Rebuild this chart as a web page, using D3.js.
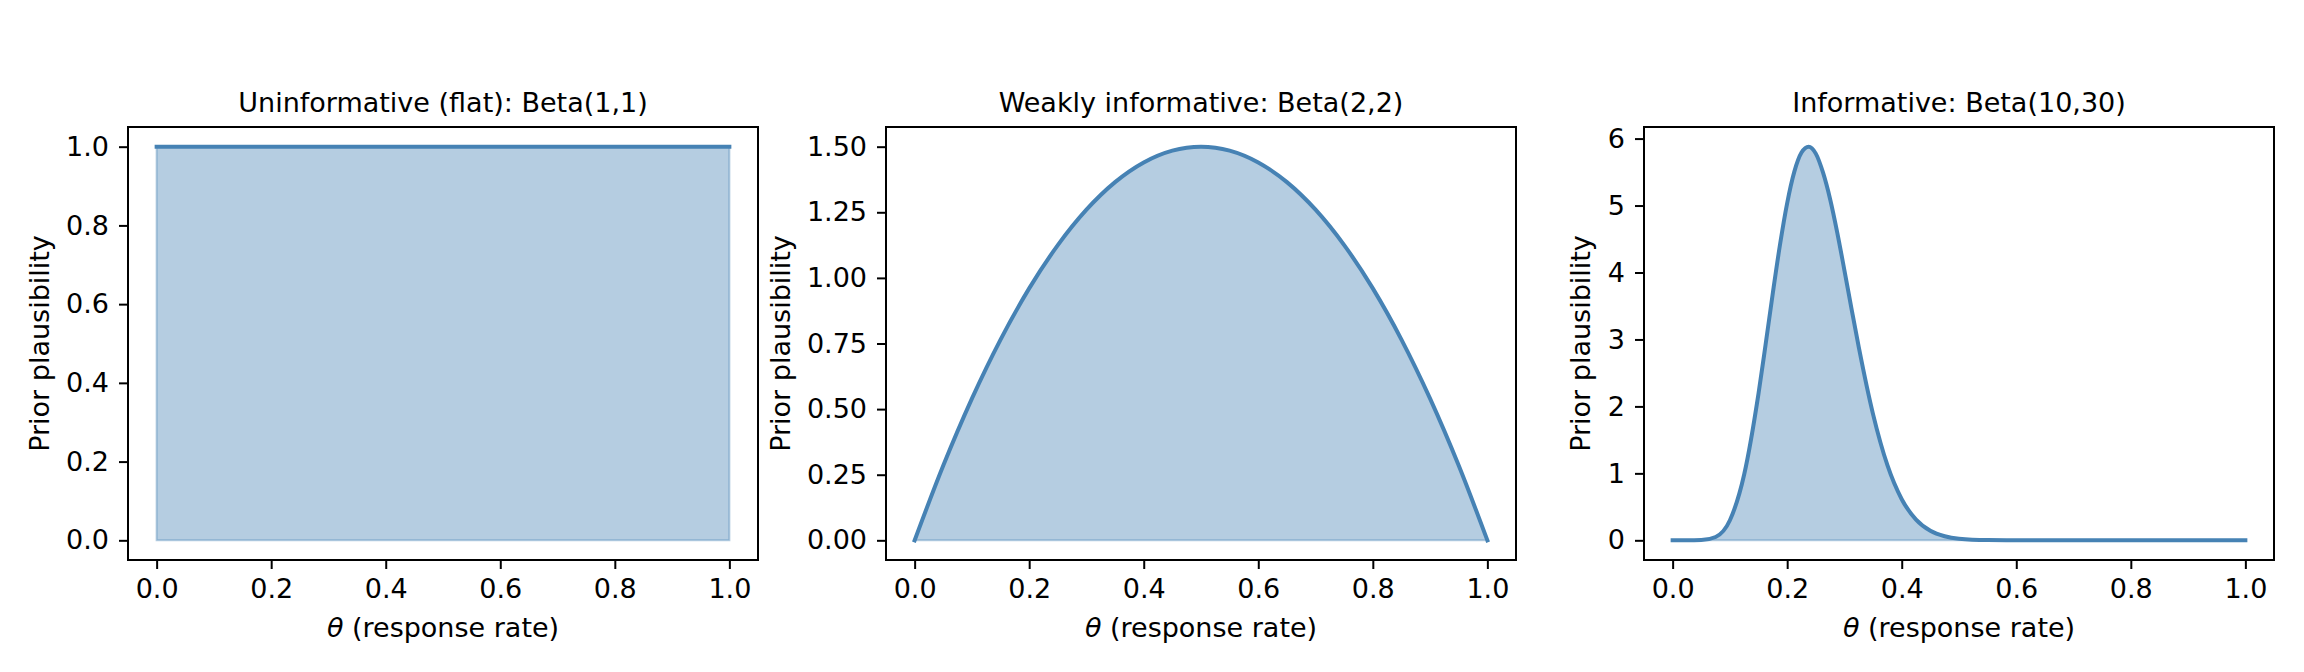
<!DOCTYPE html>
<html>
<head>
<meta charset="utf-8">
<script src="https://cdn.jsdelivr.net/npm/d3@7"></script>
<style>
  body { margin: 0; background: #fff; }
  text { font-family: "DejaVu Sans", sans-serif; }
</style>
</head>
<body>
<div id="chart"></div>
<script>
// valori (densita' a priori)
var thetaFlat = [0, 1];
var densityFlat = [1, 1];

var thetaWeak = [0, 0.05, 0.1, 0.15, 0.2, 0.25, 0.3, 0.35, 0.4, 0.45, 0.5,
  0.55, 0.6, 0.65, 0.7, 0.75, 0.8, 0.85, 0.9, 0.95, 1];
var densityWeak = [0, 0.285, 0.54, 0.765, 0.96, 1.125, 1.26, 1.365, 1.44, 1.485, 1.5,
  1.485, 1.44, 1.365, 1.26, 1.125, 0.96, 0.765, 0.54, 0.285, 0];

var thetaInf = [0, 0.025, 0.05, 0.075, 0.1, 0.125, 0.15, 0.1625, 0.175, 0.1875, 0.2,
  0.2125, 0.225, 0.2375, 0.25, 0.2625, 0.275, 0.2875, 0.3, 0.3125, 0.325, 0.35,
  0.375, 0.4, 0.425, 0.45, 0.475, 0.5, 0.55, 0.6, 0.65, 0.7, 0.75, 0.8, 0.85,
  0.9, 0.95, 1];
var densityInf = [0, 0, 0.003, 0.05, 0.3, 0.986, 2.194, 2.935, 3.697, 4.418, 5.037,
  5.506, 5.791, 5.879, 5.775, 5.494, 5.095, 4.593, 4.029, 3.45, 2.885, 1.881,
  1.122, 0.614, 0.309, 0.142, 0.06, 0.023, 0.003, 0, 0, 0, 0, 0, 0,
  0, 0, 0];

var panelTitles = ["Uninformative (flat): Beta(1,1)", "Weakly informative: Beta(2,2)", "Informative: Beta(10,30)"];
var xTicks = [0, 0.2, 0.4, 0.6, 0.8, 1.0];
var yTicksFlat = [0, 0.2, 0.4, 0.6, 0.8, 1.0];
var yTicksWeak = [0, 0.25, 0.5, 0.75, 1.0, 1.25, 1.5];
var yTicksInf = [0, 1, 2, 3, 4, 5, 6];

var width = 2304, height = 672;
var axW = 630, axTop = 127, axBottom = 560;
var axLefts = [128, 886, 1644];
var fontSize = 27;
var lineColor = "steelblue";

var svg = d3.select("#chart").append("svg")
  .attr("width", width)
  .attr("height", height)
  .style("display", "block");

svg.append("rect").attr("width", width).attr("height", height).attr("fill", "#fff");

var panels = [
  { theta: thetaFlat, dens: densityFlat, yTicks: yTicksFlat, fmt: d3.format(".1f"), curve: d3.curveLinear },
  { theta: thetaWeak, dens: densityWeak, yTicks: yTicksWeak, fmt: d3.format(".2f"), curve: d3.curveMonotoneX },
  { theta: thetaInf, dens: densityInf, yTicks: yTicksInf, fmt: d3.format("d"), curve: d3.curveMonotoneX }
];

panels.forEach(function (p, i) {
  var g = svg.append("g").attr("transform", "translate(" + axLefts[i] + ",0)");

  var x = d3.scaleLinear().domain([-0.05, 1.05]).range([0, axW]);
  var yMax = d3.max(p.dens);
  // margine del 5% come fa matplotlib
  var y = d3.scaleLinear().domain([-0.05 * yMax, 1.05 * yMax]).range([axBottom, axTop]);

  var pts = p.theta.map(function (t, k) { return [t, p.dens[k]]; });

  var area = d3.area()
    .x(function (d) { return x(d[0]); })
    .y0(y(0))
    .y1(function (d) { return y(d[1]); })
    .curve(p.curve);

  g.append("path")
    .datum(pts)
    .attr("d", area)
    .attr("fill", lineColor)
    .attr("fill-opacity", 0.4)
    .attr("stroke", lineColor)
    .attr("stroke-opacity", 0.4)
    .attr("stroke-width", 2);

  var line = d3.line()
    .x(function (d) { return x(d[0]); })
    .y(function (d) { return y(d[1]); })
    .curve(p.curve);

  g.append("path")
    .datum(pts)
    .attr("d", line)
    .attr("fill", "none")
    .attr("stroke", lineColor)
    .attr("stroke-width", 4)
    .attr("stroke-linecap", "square");

  // asse x
  var xAxis = g.append("g")
    .attr("transform", "translate(0," + axBottom + ")")
    .call(d3.axisBottom(x).tickValues(xTicks).tickFormat(d3.format(".1f"))
      .tickSize(9).tickPadding(10).tickSizeOuter(0));
  xAxis.select(".domain").remove();

  // asse y
  var yAxis = g.append("g")
    .call(d3.axisLeft(y).tickValues(p.yTicks).tickFormat(p.fmt)
      .tickSize(9).tickPadding(10).tickSizeOuter(0));
  yAxis.select(".domain").remove();

  g.selectAll(".tick line").attr("stroke", "#000").attr("stroke-width", 2);
  g.selectAll(".tick text")
    .attr("fill", "#000")
    .style("font-size", fontSize + "px")
    .style("font-family", "'DejaVu Sans', sans-serif");

  // cornice
  g.append("rect")
    .attr("x", 0)
    .attr("y", axTop)
    .attr("width", axW)
    .attr("height", axBottom - axTop)
    .attr("fill", "none")
    .attr("stroke", "#000")
    .attr("stroke-width", 2);

  g.append("text")
    .attr("x", axW / 2)
    .attr("y", 111.5)
    .attr("text-anchor", "middle")
    .style("font-size", fontSize + "px")
    .text(panelTitles[i]);

  var xl = g.append("text")
    .attr("x", axW / 2)
    .attr("y", 637)
    .attr("text-anchor", "middle")
    .style("font-size", fontSize + "px");
  xl.append("tspan").style("font-style", "italic").text("θ");
  xl.append("tspan").text(" (response rate)");

  var bb = yAxis.node().getBBox();
  var lx = bb.x - 11 - 0.236 * fontSize;
  g.append("text")
    .attr("transform", "translate(" + lx + "," + (axTop + axBottom) / 2 + ") rotate(-90)")
    .attr("text-anchor", "middle")
    .style("font-size", fontSize + "px")
    .text("Prior plausibility");
});
</script>
</body>
</html>
